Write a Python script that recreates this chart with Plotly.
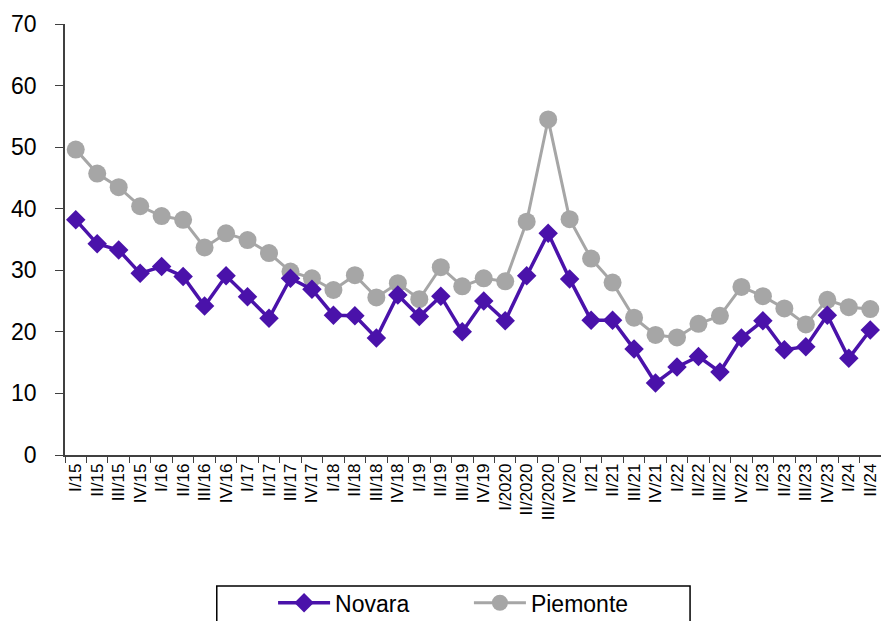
import plotly.graph_objects as go

quarters = [
    "I/15", "II/15", "III/15", "IV/15",
    "I/16", "II/16", "III/16", "IV/16",
    "I/17", "II/17", "III/17", "IV/17",
    "I/18", "II/18", "III/18", "IV/18",
    "I/19", "II/19", "III/19", "IV/19",
    "I/2020", "II/2020", "III/2020", "IV/20",
    "I/21", "II/21", "III/21", "IV/21",
    "I/22", "II/22", "III/22", "IV/22",
    "I/23", "II/23", "III/23", "IV/23",
    "I/24", "II/24",
]

novara = [
    38.2, 34.3, 33.3, 29.5,
    30.6, 29.0, 24.2, 29.1,
    25.7, 22.2, 28.7, 26.9,
    22.7, 22.6, 19.0, 26.0,
    22.5, 25.8, 20.0, 25.0,
    21.8, 29.1, 36.0, 28.6,
    21.9, 21.9, 17.2, 11.7,
    14.3, 16.0, 13.5, 19.0,
    21.8, 17.1, 17.6, 22.7,
    15.7, 20.3,
]

piemonte = [
    49.6, 45.7, 43.5, 40.4,
    38.8, 38.2, 33.7, 36.0,
    34.9, 32.8, 29.8, 28.7,
    26.8, 29.2, 25.6, 27.9,
    25.3, 30.5, 27.4, 28.7,
    28.2, 37.9, 54.5, 38.3,
    31.9, 28.0, 22.3, 19.5,
    19.1, 21.3, 22.6, 27.3,
    25.8, 23.8, 21.2, 25.2,
    24.0, 23.7,
]

FONT = "Arial, Liberation Sans, sans-serif"
PURPLE = "#4A12AA"
GRAY = "#A6A6A6"

fig = go.Figure()
# Piemonte first so Novara is drawn on top
fig.add_trace(
    go.Scatter(
        x=quarters, y=piemonte, name="Piemonte", mode="lines+markers",
        line={"color": GRAY, "width": 3},
        marker={"symbol": "circle", "size": 18, "color": GRAY},
        legend="legend2",
    )
)
fig.add_trace(
    go.Scatter(
        x=quarters, y=novara, name="Novara", mode="lines+markers",
        line={"color": PURPLE, "width": 3.5},
        marker={"symbol": "diamond", "size": 15, "color": PURPLE},
        legend="legend",
    )
)

legend_common = {
    "orientation": "h",
    "xanchor": "left",
    "y": -0.293,
    "yanchor": "top",
    "font": {"size": 23, "family": FONT},
    "bgcolor": "rgba(0,0,0,0)",
    "itemwidth": 52,
}

fig.update_layout(
    width=881,
    height=621,
    margin={"l": 65, "r": 0, "t": 24, "b": 166, "autoexpand": False},
    paper_bgcolor="white",
    plot_bgcolor="white",
    font={"family": FONT, "color": "black"},
    showlegend=True,
    legend={**legend_common, "x": 0.255},
    legend2={**legend_common, "x": 0.495},
    xaxis={
        "type": "category",
        "showgrid": False,
        "showline": True,
        "linecolor": "#404040",
        "linewidth": 1.5,
        "ticks": "outside",
        "tickson": "boundaries",
        "ticklen": 6,
        "tickcolor": "#404040",
        "tickangle": -90,
        "tickfont": {"size": 17, "family": FONT},
        "range": [-0.5, len(quarters) - 0.5],
        "automargin": False,
    },
    yaxis={
        "range": [0, 70],
        "dtick": 10,
        "showgrid": False,
        "zeroline": False,
        "showline": True,
        "linecolor": "#404040",
        "linewidth": 1.5,
        "ticks": "outside",
        "ticklen": 8,
        "tickcolor": "#404040",
        "ticklabelstandoff": 14,
        "tickfont": {"size": 23, "family": FONT},
        "automargin": False,
    },
    shapes=[
        {
            "type": "rect",
            "xref": "paper",
            "yref": "paper",
            "x0": 0.186,
            "x1": 0.766,
            "y0": -0.304,
            "y1": -0.42,
            "line": {"color": "black", "width": 1.5},
            "fillcolor": "rgba(0,0,0,0)",
            "layer": "above",
        }
    ],
)

fig.write_html(
    "out.html",
    config={"displayModeBar": False},
    post_script="document.body.style.margin='0';document.body.style.overflow='hidden';",
)
